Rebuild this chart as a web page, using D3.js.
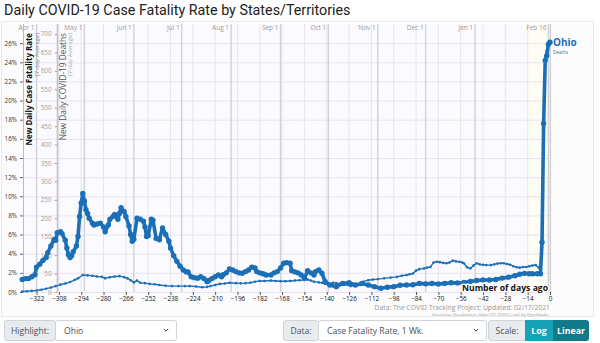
<!DOCTYPE html>
<html lang="en">
<head>
<meta charset="UTF-8">
<title>Daily COVID-19 Case Fatality Rate by States/Territories</title>
<style>
  body { margin: 0; background: #fff; }
  svg text { font-family: "Open Sans", "Noto Sans", sans-serif; }
</style>
</head>
<body>
<svg id="viz" width="600" height="343"></svg>
<script src="https://d3js.org/d3.v7.min.js"></script>
<script>
// Ohio - new daily case fatality rate, 7-day average (%), by days ago
const cfrDays = [-331, -329, -327, -325, -323, -322, -320, -318, -316, -315, -313, -311, -310, -309, -307, -306,
  -304, -303, -302, -301, -300, -299, -297, -296, -295, -294, -293, -292, -291, -290, -289, -287, -286, -284,
  -282, -280, -279, -277, -276, -274, -273, -271, -270, -269, -267, -266, -264, -263, -262, -261, -259, -257,
  -255, -254, -253, -252, -250, -249, -247, -245, -243, -241, -239, -238, -236, -234, -232, -230, -228, -227,
  -225, -223, -221, -219, -217, -215, -214, -212, -210, -208, -206, -205, -203, -201, -199, -197, -195, -193,
  -191, -189, -187, -185, -184, -182, -180, -178, -175, -173, -171, -169, -167, -165, -163, -162, -160, -158,
  -156, -154, -152, -150, -148, -147, -145, -143, -141, -138, -134, -130, -126, -122, -118, -114, -110, -106,
  -102, -98, -94, -90, -86, -82, -78, -74, -70, -66, -62, -58, -54, -50, -46, -42, -38, -34, -30, -26, -22,
  -19, -16, -13, -11, -8, -6, -5, -4, -3, -2, -1, 0];
const cfrValues = [1.3, 1.4, 1.4, 1.6, 1.8, 2.6, 2.9, 3.3, 3.6, 4.1, 4.8, 5.5, 5.4, 6.2, 6.3, 6.1,
  5.4, 4.6, 3.9, 3.6, 3.8, 4.2, 4.8, 5.8, 7.9, 9.3, 10.3, 9.5, 8.6, 8.2, 7.7, 7.2, 7.0, 7.1,
  7.2, 6.8, 6.3, 7.0, 7.6, 7.9, 8.1, 7.6, 8.2, 8.8, 8.4, 7.9, 6.9, 6.0, 5.3, 5.5, 7.7, 7.6,
  7.4, 6.8, 5.8, 5.9, 7.6, 7.5, 5.6, 5.45, 6.7, 6.0, 5.3, 4.6, 3.8, 3.2, 2.7, 2.3, 2.1, 2.1,
  1.6, 1.5, 1.43, 1.6, 1.4, 1.08, 1.2, 1.4, 1.6, 1.78, 1.6, 1.8, 2.0, 2.4, 2.3, 2.13, 2.0, 1.96,
  2.13, 2.3, 2.6, 2.5, 2.13, 2.0, 1.9, 1.78, 1.78, 2.0, 2.13, 2.5, 3.0, 3.07, 3.0, 2.23, 2.1, 2.0,
  1.78, 1.43, 2.23, 2.0, 1.78, 2.13, 2.3, 1.96, 1.08, 0.73, 0.56, 0.9, 0.97, 0.73, 0.9, 0.73, 0.56, 0.39,
  0.5, 0.56, 0.7, 0.73, 0.75, 0.9, 0.85, 0.9, 0.84, 0.9, 0.97, 0.95, 1.0, 1.1, 1.2, 1.26, 1.25, 1.3, 1.45, 1.55, 1.7,
  1.85, 1.95, 1.9, 1.9, 1.9, 1.9, 5.2, 17.6, 24.2, 24.7, 25.9, 26.1];

// Ohio - new daily deaths, 7-day average
const deathDays = [-331, -328, -325, -322, -319, -316, -313, -310, -307, -304, -301, -298, -296, -293, -290,
  -287, -284, -281, -279, -276, -273, -270, -267, -265, -263, -261, -259, -257, -254, -251, -248, -245, -241,
  -237, -233, -229, -226, -222, -218, -215, -213, -210, -207, -204, -201, -197, -194, -191, -188, -185, -182,
  -179, -175, -172, -169, -166, -163, -160, -157, -154, -152, -150, -148, -145, -143, -141, -139, -137, -136,
  -134, -132, -129, -125, -122, -119, -117, -114, -111, -108, -104, -100, -96, -93, -90, -88, -86, -84, -82,
  -79, -77, -75, -73, -71, -69, -67, -65, -63, -61, -59, -57, -55, -54, -52, -50, -48, -46, -44, -42, -40,
  -37, -35, -33, -31, -29, -27, -25, -23, -21, -19, -17, -15, -13, -11, -9, -7, -6, -5, -4, -3, -2, -1, 0];
const deathValues = [1, 2, 3, 4, 6, 9, 12, 16, 20, 23, 27, 33, 37, 46, 45,
  44, 42, 41, 37, 40, 42, 43, 40, 37, 32, 26, 31, 25, 24, 22, 21, 19, 17,
  16, 16, 16, 16, 15, 13, 14, 16, 19, 22, 23, 25, 24, 23.5, 24, 25, 28, 30,
  30, 31, 30, 29, 29, 30, 31, 32, 33, 34, 31, 28, 26, 25, 22, 19, 22, 25,
  24, 22, 20, 16, 17, 19, 28, 32, 34, 35, 37, 39, 41, 44, 46, 48, 50, 58, 62,
  64, 66, 68, 80, 82, 81, 79, 78, 80, 85, 83, 82, 80, 78, 67, 64, 72, 78, 75, 74, 73,
  73, 75, 77, 78, 78, 76, 74, 70, 67, 66, 68, 68, 70, 72, 73, 66, 60, 120, 420, 640, 655, 668, 676];

const dayTicks = d3.range(-322, 1, 14);
const pctTicks = d3.range(0, 27, 2);
const deathTicks = d3.range(0, 701, 50);
const monthLabels = ["Apr 1", "May 1", "Jun 1", "Jul 1", "Aug 1", "Sep 1", "Oct 1", "Nov 1", "Dec 1", "Jan 1", "Feb 16"];
const monthDays = [-322, -292, -261, -231, -200, -169, -139, -108, -78, -47, -1];

const blue = "#1b6fb7";
const svg = d3.select("#viz");

const pLeft = 23, pRight = 550, pTop = 24, pBottom = 292;
const x = d3.scaleLinear().domain([-330.5, 0]).range([pLeft, pRight]);
const yPct = d3.scaleLinear().domain([0, 28]).range([pBottom, pTop]);
const yDeaths = d3.scaleLinear().domain([0, 727]).range([pBottom, pTop]);

// title
svg.append("text")
  .attr("x", 4).attr("y", 15)
  .style("font-family", "Roboto, sans-serif")
  .style("font-size", "14.3px")
  .style("fill", "#222")
  .text("Daily COVID-19 Case Fatality Rate by States/Territories");

// chart card
svg.append("rect")
  .attr("x", 1.5).attr("y", 21.5).attr("width", 592).attr("height", 295)
  .attr("fill", "#fcfcfd").attr("stroke", "#e8e8e8");

svg.append("rect")
  .attr("x", pLeft).attr("y", pTop).attr("width", pRight - pLeft).attr("height", pBottom - pTop)
  .attr("fill", "#fbfaff");
// last two weeks shaded
svg.append("rect")
  .attr("x", x(-14)).attr("y", pTop).attr("width", x(0) - x(-14)).attr("height", pBottom - pTop)
  .attr("fill", "#fdfdf3");

// grid
svg.append("g").selectAll("line").data(pctTicks).join("line")
  .attr("x1", pLeft).attr("x2", pRight)
  .attr("y1", d => yPct(d) + 0.5).attr("y2", d => yPct(d) + 0.5)
  .attr("stroke", "#ebe3f0");
svg.append("g").selectAll("line").data(dayTicks).join("line")
  .attr("x1", d => x(d)).attr("x2", d => x(d))
  .attr("y1", pTop).attr("y2", pBottom)
  .attr("stroke", "#ebe3f0");

// month lines
const months = svg.append("g");
months.selectAll("line").data(monthDays).join("line")
  .attr("x1", d => x(d)).attr("x2", d => x(d))
  .attr("y1", pTop).attr("y2", pBottom)
  .attr("stroke", "#d2d2d6").attr("stroke-width", 1.4);
months.selectAll("text").data(monthDays).join("text")
  .attr("x", d => x(d) - 2).attr("y", pTop + 6)
  .attr("text-anchor", "end")
  .style("font-size", "6.5px").style("fill", "#9a9a9a")
  .text((d, i) => monthLabels[i]);

// right edge of the plot
svg.append("line")
  .attr("x1", pRight + 0.5).attr("x2", pRight + 0.5).attr("y1", pTop).attr("y2", pBottom)
  .attr("stroke", "#cfcfd4").attr("stroke-width", 1.2);

// axes
const xAxis = svg.append("g")
  .attr("transform", `translate(0,${pBottom})`)
  .call(d3.axisBottom(x).tickValues(dayTicks).tickSize(3).tickPadding(2).tickFormat(d3.format("d")));
xAxis.select(".domain").remove();
xAxis.selectAll("text").style("font-size", "6.3px").style("fill", "#111");
xAxis.selectAll("line").attr("stroke", "#555");

const pctAxis = svg.append("g")
  .attr("transform", `translate(${pLeft},0)`)
  .call(d3.axisLeft(yPct).tickValues(pctTicks).tickSize(3).tickFormat(d => d + "%"));
pctAxis.select(".domain").attr("stroke", "#bbb").attr("d", `M0.5,${pTop}V${pBottom}`);
pctAxis.selectAll("text").style("font-size", "6.3px").style("fill", "#333");
pctAxis.selectAll(".tick line").attr("stroke", "#666");

const deathX = 57.5;
const deathAxis = svg.append("g")
  .attr("transform", `translate(${deathX},0)`)
  .call(d3.axisLeft(yDeaths).tickValues(deathTicks).tickSize(3));
deathAxis.select(".domain").attr("stroke", "#c4c4c8").attr("stroke-width", 1.6).attr("d", `M0,${pTop}V${pBottom}`);
deathAxis.selectAll("text").style("font-size", "6.3px").style("fill", "#9a9a9a");
deathAxis.selectAll(".tick line").attr("stroke", "#aaa");

// axis titles
function vTitle(cx, txt, size, weight, color) {
  svg.append("text")
    .attr("transform", `translate(${cx},${pTop + 9}) rotate(-90)`)
    .attr("text-anchor", "end")
    .style("font-size", size).style("font-weight", weight).style("fill", color)
    .text(txt);
}
vTitle(32, "New Daily Case Fatality Rate", "7.9px", "bold", "#111");
vTitle(38.5, "(7-day Average)", "6px", "normal", "#888");
vTitle(65.5, "New Daily COVID-19 Deaths", "8.3px", "normal", "#555");
vTitle(72, "(7-day Average)", "6px", "normal", "#aaa");

// series
const cfr = cfrDays.map((d, i) => ({ day: d, v: cfrValues[i] }));
const deaths = deathDays.map((d, i) => ({ day: d, v: deathValues[i] }));

svg.append("path").datum(deaths)
  .attr("fill", "none").attr("stroke", blue).attr("stroke-width", 1.4)
  .attr("d", d3.line().x(d => x(d.day)).y(d => yDeaths(d.v)));
svg.append("g").selectAll("circle").data(deaths).join("circle")
  .attr("cx", d => x(d.day)).attr("cy", d => yDeaths(d.v)).attr("r", 1.3)
  .attr("fill", blue);

svg.append("path").datum(cfr)
  .attr("fill", "none").attr("stroke", blue).attr("stroke-width", 3.6)
  .attr("stroke-linejoin", "round")
  .attr("d", d3.line().x(d => x(d.day)).y(d => yPct(d.v)));
svg.append("g").selectAll("circle").data(cfr).join("circle")
  .attr("cx", d => x(d.day)).attr("cy", d => yPct(d.v)).attr("r", 2.7)
  .attr("fill", blue);

// labels
svg.append("text")
  .attr("x", 548).attr("y", 291)
  .attr("text-anchor", "end")
  .style("font-size", "8.6px").style("font-weight", "bold").style("fill", "#111")
  .style("stroke", "#fff").style("stroke-width", 2.5).style("paint-order", "stroke")
  .text("Number of days ago");

svg.append("text")
  .attr("x", 553).attr("y", 46)
  .style("font-size", "10px").style("font-weight", "bold").style("fill", blue)
  .text("Ohio");
svg.append("text")
  .attr("x", 553).attr("y", 54)
  .style("font-size", "4.5px").style("fill", "#4a6f95")
  .text("Deaths");

svg.append("text")
  .attr("x", 550).attr("y", 310)
  .attr("text-anchor", "end")
  .style("font-size", "6.8px").style("fill", "#999")
  .text("Data: The COVID Tracking Project; Updated: 02/17/2021");
svg.append("text")
  .attr("x", 550).attr("y", 315.5)
  .attr("text-anchor", "end")
  .style("font-size", "4px").style("fill", "#999")
  .text("Interactive Visualization: https://91-DIVOC.com/ by @profwade_");

// controls
const bar = svg.append("g").style("font-family", "Roboto, sans-serif");
function addon(x0, w, txt) {
  bar.append("rect").attr("x", x0 + 0.5).attr("y", 320.5).attr("width", w).attr("height", 20)
    .attr("rx", 2.5).attr("fill", "#e9ecef").attr("stroke", "#ced4da");
  bar.append("text").attr("x", x0 + w / 2 + 0.5).attr("y", 334).attr("text-anchor", "middle")
    .style("font-size", "8.6px").style("fill", "#495057").text(txt);
}
function select(x0, w, txt) {
  bar.append("rect").attr("x", x0 + 0.5).attr("y", 320.5).attr("width", w).attr("height", 20)
    .attr("rx", 2.5).attr("fill", "#fff").attr("stroke", "#ced4da");
  bar.append("text").attr("x", x0 + 9).attr("y", 334)
    .style("font-size", "8.6px").style("fill", "#495057").text(txt);
  const cx = x0 + w - 10;
  bar.append("path").attr("d", `M${cx - 2.2},${329} L${cx},${331.2} L${cx + 2.2},${329}`)
    .attr("fill", "none").attr("stroke", "#343a40").attr("stroke-width", 1);
}
addon(4, 51, "Highlight:");
select(55, 121, "Ohio");
addon(283, 35, "Data:");
select(318, 168, "Case Fatality Rate, 1 Wk.");
addon(488, 37, "Scale:");
bar.append("rect").attr("x", 525).attr("y", 320).attr("width", 28).attr("height", 21).attr("fill", "#17a2b8");
bar.append("path").attr("d", "M553,320 H586 Q589,320 589,323 V338 Q589,341 586,341 H553 Z").attr("fill", "#117a8b");
bar.append("text").attr("x", 539).attr("y", 334).attr("text-anchor", "middle")
  .style("font-size", "8.8px").style("font-weight", "bold").style("fill", "#fff").text("Log");
bar.append("text").attr("x", 571).attr("y", 334).attr("text-anchor", "middle")
  .style("font-size", "8.8px").style("font-weight", "bold").style("fill", "#fff").text("Linear");
</script>
</body>
</html>
